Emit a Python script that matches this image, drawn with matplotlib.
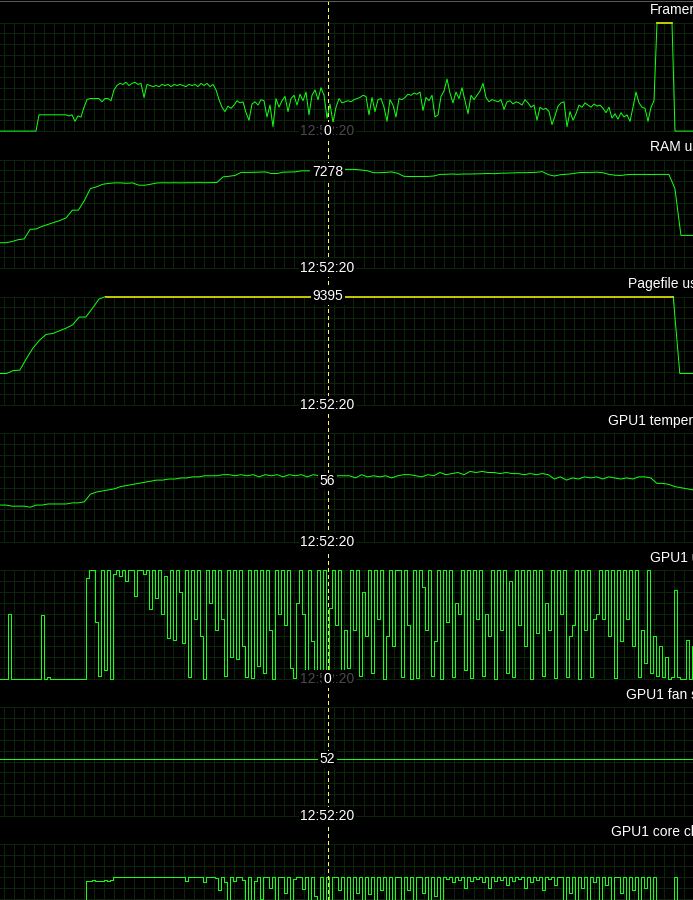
"""Hardware monitor history graphs (Afterburner style), drawn with matplotlib."""

import numpy as np
import matplotlib

matplotlib.use("Agg")

import matplotlib.pyplot as plt  # noqa: E402
from matplotlib.lines import Line2D  # noqa: E402

W, H, DPI = 693, 900, 100

# time window shown in every graph, and the cursor position inside it
WINDOW_S = 231.0
CURSOR_S = 109.2
CURSOR_TIME = "12:52:20"

FRAMERATE_FPS = [
    0, 0, 0, 0, 0, 0, 0, 0, 0, 0, 0, 0, 0,
    15, 15, 15, 15, 15, 15, 15, 15, 15, 15,
    14, 15, 9, 14, 13, 22, 29,
    30, 30, 30, 30, 27, 30, 30, 28, 38, 42,
    44, 43, 45, 42, 44, 45, 43, 44, 31, 43,
    42, 41, 42, 41, 43, 42, 43, 41, 43, 42,
    43, 42, 41, 43, 42, 43, 41, 44, 42, 44,
    41, 43, 38, 29, 22, 18, 23, 21, 24, 28,
    26, 27, 17, 10, 25, 27, 24, 29, 28, 13,
    24, 4, 30, 22, 28, 32, 18, 30, 33, 24,
    34, 28, 36, 15, 33, 38, 29, 40, 33, 12,
    25, 8, 22,
    30, 26, 27, 28, 27, 29, 30,
    31, 33, 32, 15, 31, 18, 29, 30, 22, 9,
    29, 24, 13, 30, 29, 31, 34, 33, 35, 34,
    36, 19, 31, 28, 33, 13, 15, 32, 37, 48,
    35, 26, 36, 30, 40, 28, 16, 33, 29, 33,
    37, 44, 31, 27, 29, 28, 27, 29, 20, 27,
    28, 25, 27, 26, 24, 29, 26, 22, 24, 10,
    22, 20, 21, 18, 6, 14, 23, 26, 27, 4,
    18, 10, 16, 24, 22, 26, 24, 22, 25, 23,
    24, 21, 17, 22, 12, 16, 11, 17, 13, 15,
    9, 22, 36, 26, 22, 21, 9, 22, 28,
    144, 144, 144, 144, 144, 144,
    0, 0, 0, 0, 0, 0, 0,
]

RAM_MB = [
    1911, 1911, 2000, 2140, 2200, 2920, 2950, 3150, 3300, 3450,
    3600, 3800, 4370, 4370, 5100, 6000, 6130, 6320, 6390, 6430,
    6430, 6400, 6430, 6260, 6250, 6330, 6420, 6440, 6430, 6440,
    6430, 6440, 6440, 6450, 6440, 6450, 6460, 6880, 6930, 6990,
    7220, 7220, 7230, 7240, 7260, 7140, 7140, 7240, 7250, 7260,
    7340, 7340, 7340, 7340, 7350, 7350, 7400, 7450, 7450, 7440,
    7400, 7340, 7200, 7200, 7220, 7260, 7150, 6930, 6910, 6915,
    6915, 6920, 6950, 7070, 7080, 7100, 7080, 7100, 7100, 7110,
    7120, 7140, 7120, 7160, 7170, 7180, 7200, 7200, 7210, 7230,
    7280, 7050, 6950, 7050, 7080, 7120, 7200, 7220, 7220, 7240,
    7200, 7080, 7010, 6990, 7050, 7070, 7070, 7070, 7060, 7070,
    7070, 7070, 6000, 2465, 2465, 2465,
]

PAGEFILE_MB = [
    2380, 2380, 2600, 2630, 3500, 4300, 4900, 5330, 5400, 5600,
    5800, 6050, 6640, 6640, 7300, 8000,
    9395, 9395, 9395, 9395, 9395, 9395, 9395, 9395, 9395, 9395,
    9395, 9395, 9395, 9395, 9395, 9395, 9395, 9395, 9395, 9395,
    9395, 9395, 9395, 9395, 9395, 9395, 9395, 9395, 9395, 9395,
    9395, 9395, 9395, 9395, 9395, 9395, 9395, 9395, 9395, 9395,
    9395, 9395, 9395, 9395, 9395, 9395, 9395, 9395, 9395, 9395,
    9395, 9395, 9395, 9395, 9395, 9395, 9395, 9395, 9395, 9395,
    9395, 9395, 9395, 9395, 9395, 9395, 9395, 9395, 9395, 9395,
    9395, 9395, 9395, 9395, 9395, 9395, 9395, 9395, 9395, 9395,
    9395, 9395, 9395, 9395, 9395, 9395, 9395,
    2380, 2380, 2380,
]

GPU_TEMP_C = [
    34, 34, 33, 33, 33, 32, 34, 34, 35, 35,
    35, 35, 36, 36, 37, 44, 46, 47, 48, 49,
    51, 52, 53, 54, 55, 56, 57, 57, 58, 58,
    59, 59, 60, 60, 61, 61, 61, 62, 62, 61,
    62, 61, 62, 60, 62, 61, 62, 60, 62, 61,
    62, 60, 62, 61, 60, 62, 61, 61, 61, 59,
    62, 60, 61, 60, 61, 59, 61, 62, 62, 61,
    60, 62, 61, 64, 62, 63, 64, 62, 65, 64,
    65, 64, 64, 63, 64, 63, 63, 62, 63, 62,
    63, 62, 58, 60, 57, 59, 58, 60, 59, 60,
    58, 60, 59, 58, 59, 58, 60, 60, 59, 54,
    54, 53, 51, 50, 49, 48,
]

GPU_USAGE_PCT = [
    0, 0, 0, 60, 0, 0, 0, 0, 0, 0,
    0, 0, 0, 0, 59, 0, 2, 0, 0, 0,
    0, 0, 0, 0, 0, 0, 0, 0, 0, 93,
    100, 100, 52, 3, 100, 8, 100, 0, 97, 100,
    95, 100, 90, 100, 100, 76, 100, 100, 97, 100,
    64, 100, 75, 100, 60, 95, 38, 100, 36, 100,
    80, 33, 100, 2, 100, 55, 100, 40, 0, 100,
    70, 100, 45, 100, 55, 3, 100, 20, 100, 18,
    100, 30, 2, 100, 1, 100,
    12, 100, 5, 100, 45, 0, 100, 60, 100, 50,
    100, 10, 1, 70, 100, 60, 2, 100, 35, 1,
    100, 8, 100, 2, 65, 100, 50, 100, 3, 45,
    10, 100, 45, 100, 3, 80, 40, 100, 5, 100,
    55, 100, 0, 40, 100, 30, 100, 100, 2, 100,
    50, 0, 100, 1, 100, 85, 45, 100, 3, 35,
    100, 0, 100, 52, 100, 2, 70, 60, 100, 8,
    100, 1, 100, 55, 100, 3, 60, 40, 100, 0,
    100, 45, 100, 5, 90, 2, 100, 50, 100, 30,
    100, 0, 100, 42, 100, 3, 70, 45, 100, 1,
    100, 60, 100, 2, 40, 50, 100, 0, 100, 45,
    100, 2, 55, 60, 100, 55, 100, 40, 100, 1,
    100, 35, 100, 55, 100, 30, 100, 2, 45, 15,
    100, 5, 40, 3,
    30, 2, 20, 0, 2, 82, 2, 0, 0, 36,
    0, 30,
]

GPU_FAN_PCT = [52, 52, 52, 52, 52, 52, 52, 52, 52, 52, 52, 52]

GPU_CLOCK_MHZ = [
    300, 300, 300, 300, 300, 300, 300, 300, 300, 300,
    300, 300, 300, 300, 300, 300, 300, 300, 300, 300,
    300, 300, 300, 300, 300, 300, 300, 300, 300,
    1330, 1326, 1335, 1330, 1322, 1330, 1334, 1326, 1340, 1389,
    1389, 1389, 1389, 1389, 1389, 1389, 1389, 1389, 1389, 1389,
    1389, 1389, 1389, 1389, 1389, 1389, 1389, 1389, 1389, 1389,
    1389, 1389, 1389,
    1330, 1389, 1389, 1389, 1389, 1389, 1300, 1389, 1389, 1389,
    1370, 1150, 1389, 1300, 700, 1389, 1330, 1389,
    1389, 1350, 800, 1389, 600, 1330, 1389, 1000, 1389, 1389,
    1200, 1389, 650, 1389, 1389, 1100, 1389, 700, 1360, 1389,
    1389, 1180, 1389, 600, 1389, 1050, 650, 1389, 800, 1389,
    600, 1389, 1389, 1150, 1389, 650, 1389, 800, 1389, 1100,
    1389, 600, 1389, 1080, 1389, 700, 1389, 1160, 1389, 600,
    1389, 950, 1389, 1389, 600, 1389, 1150, 1389, 620, 1389,
    1389, 1100, 1389, 600, 1389, 1050, 1389, 600, 1389, 1360,
    1389, 1300, 1389, 1340, 1389, 1200, 1389, 1330, 1389, 1360,
    1389, 1300, 1389, 1200, 1389, 1320, 1389, 1350, 1389, 1250,
    1389, 1330, 1389, 1360, 1389, 1200, 1389, 1300, 1389, 1340,
    1389, 1150, 1389, 1360, 1389, 1250, 1389, 1389, 700, 1389,
    1100, 1389, 600, 1389, 1200, 1389, 650, 1389, 1300, 1389,
    700, 1389, 1250, 1389, 600, 1389, 1389, 1100, 1389, 650,
    1389, 1150, 1389, 600, 1389, 1200, 1389, 650, 1389, 600,
    500, 450, 500, 450, 500, 1389, 500, 400, 450, 400,
    400, 400,
]

# title, series, graph limit, value shown at the cursor, title left edge (px),
# line drawing style
PANELS = [
    ("Framerate", FRAMERATE_FPS, 100, 0, 649.5, "default"),
    ("RAM usage", RAM_MB, 8192, 7278, 649.5, "default"),
    ("Pagefile usage", PAGEFILE_MB, 8192, 9395, 628.0, "default"),
    ("GPU1 temperature", GPU_TEMP_C, 100, 56, 608.5, "default"),
    ("GPU1 usage", GPU_USAGE_PCT, 100, 0, 650.5, "steps-mid"),
    ("GPU1 fan speed", GPU_FAN_PCT, 100, 52, 626.0, "default"),
    ("GPU1 core clock", GPU_CLOCK_MHZ, 2000, None, 611.0, "steps-mid"),
]

BG = "black"
GRID_C = "#0a250a"
LINE_C = "#14ff14"
OVER_C = "#ffff00"
CURSOR_C = "#ffff50"
TEXT_C = "white"
DIM_C = "#4a4a4a"
PX = 72.0 / DPI  # one pixel in points

TOP0, PERIOD, GRID_H = 22.6, 136.95, 108.5
GRID_X0, GRID_DX = 3.5, 10.0

plt.rcParams["font.family"] = ["Liberation Sans", "DejaVu Sans"]
plt.rcParams["font.size"] = 10

fig = plt.figure(figsize=(W / DPI, H / DPI), dpi=DPI, facecolor=BG)

label_box = dict(boxstyle="square,pad=0.12", fc=BG, ec="none")

for k, (title, values, vmax, cur_val, title_x, style) in enumerate(PANELS):
    top = TOP0 + k * PERIOD
    ax = fig.add_axes([0, 1 - (top + GRID_H) / H, 1, GRID_H / H])
    ax.set_xlim(0, WINDOW_S)
    ax.set_ylim(0, vmax)
    ax.axis("off")

    # background grid, 1 px lines
    gx = np.arange(GRID_X0, W, GRID_DX) / W
    ax.vlines(gx, 0, 1, transform=ax.transAxes, colors=GRID_C,
              lw=PX, antialiased=False, snap=True, clip_on=False, zorder=0)
    ax.hlines(np.linspace(0, 1, 11), 0, 1, transform=ax.transAxes,
              colors=GRID_C, lw=PX, antialiased=False, snap=True,
              clip_on=False, zorder=0)

    v = np.asarray(values, dtype=float)
    t = np.linspace(0, WINDOW_S, len(v))
    shown = np.minimum(v, vmax)
    over = v > vmax
    prev_over = np.r_[False, over[:-1]]
    next_over = np.r_[over[1:], False]

    # green trace, leaving out the stretches that sit past the graph limit
    green = np.where(over & prev_over & next_over, np.nan, shown)
    ax.plot(t, green, color=LINE_C, lw=PX, drawstyle=style,
            clip_on=False, zorder=2)
    # samples past the limit are drawn in yellow along the top edge
    ax.plot(t, np.where(over, shown, np.nan), color=OVER_C, lw=1.5 * PX,
            drawstyle=style, clip_on=False, zorder=2.5)

    # graph name, clipped by the right edge
    fig.text(title_x / W, 1 - (top - 8.6) / H, title, color=TEXT_C,
             ha="left", va="baseline", zorder=6)

    at_bottom = cur_val is not None and cur_val <= 0
    fig.text(CURSOR_S, 0, CURSOR_TIME, transform=ax.transData,
             color=DIM_C if at_bottom else TEXT_C, ha="center", va="center",
             bbox=label_box, zorder=5)
    if cur_val is not None:
        fig.text(CURSOR_S, min(cur_val, vmax), str(cur_val),
                 transform=ax.transData, color=TEXT_C, ha="center",
                 va="center", bbox=label_box, zorder=6)

cx = CURSOR_S / WINDOW_S
fig.add_artist(Line2D([cx, cx], [0, 1], transform=fig.transFigure,
                      color=CURSOR_C, lw=PX, dashes=(4, 3),
                      antialiased=False, zorder=3))
fig.add_artist(Line2D([0, 1], [1 - 0.5 / H, 1 - 0.5 / H],
                      transform=fig.transFigure, color="#5a5a5a", lw=PX,
                      antialiased=False, zorder=3))

fig.savefig("out.png", dpi=DPI, facecolor=BG)
